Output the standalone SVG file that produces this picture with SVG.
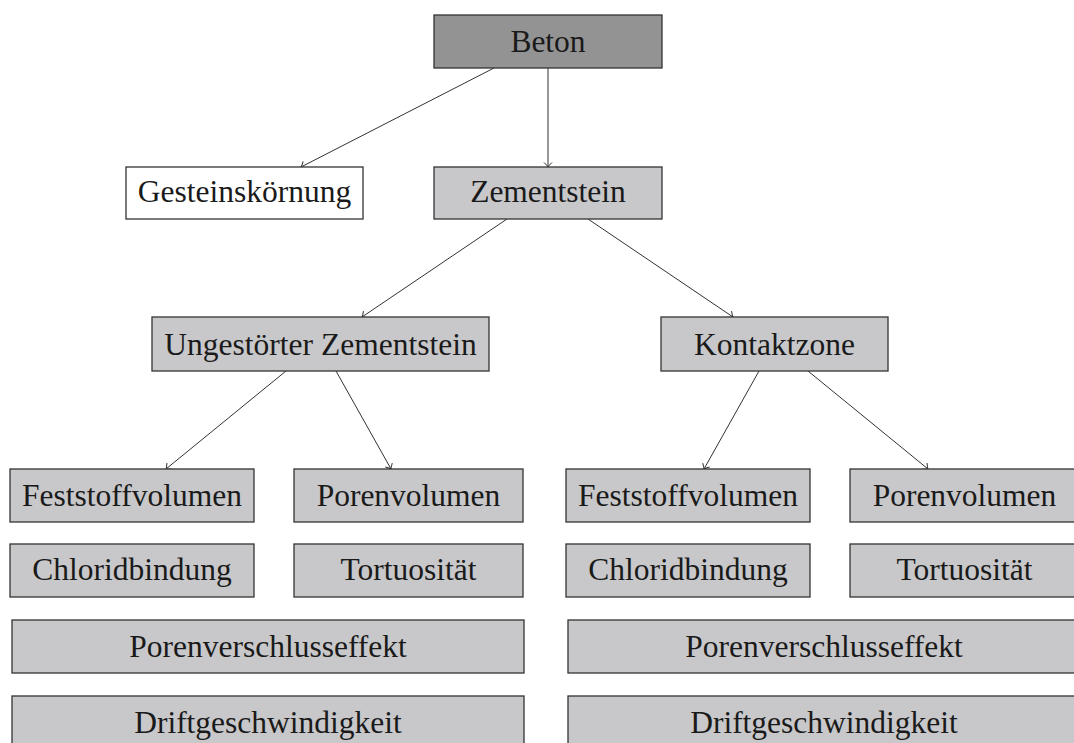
<svg xmlns="http://www.w3.org/2000/svg" width="1074" height="743" viewBox="0 0 1074 743">
<style>
rect{stroke:#333;stroke-width:1.3}
.g{fill:#c8c8ca}
.d{fill:#939393}
.w{fill:#fff}
text{font-family:"Liberation Serif","Times New Roman",serif;font-size:31.5px;fill:#1a1a1a;text-anchor:middle}
.c line{stroke:#333;stroke-width:1;marker-end:url(#ah)}
</style>
<defs>
<marker id="ah" viewBox="-6 -6 12 12" markerWidth="12" markerHeight="12" refX="0" refY="0" orient="auto" markerUnits="userSpaceOnUse">
<path d="M-4.5,-4 Q-1.5,-0.8 0,0 Q-1.5,0.8 -4.5,4" fill="none" stroke="#333" stroke-width="1"/>
</marker>
</defs>
<rect width="1074" height="743" fill="#fff" style="stroke:none"/>
<g class="c" id="connectors">
<line x1="494" y1="68" x2="301" y2="167"/>
<line x1="548" y1="68" x2="548" y2="167"/>
<line x1="507" y1="219" x2="362" y2="317"/>
<line x1="588" y1="219" x2="733" y2="317"/>
<line x1="286" y1="371" x2="166" y2="469"/>
<line x1="336" y1="371" x2="391" y2="469"/>
<line x1="759" y1="371" x2="704" y2="469"/>
<line x1="808" y1="371" x2="928" y2="469"/>
</g>
<g id="beton"><rect class="d" x="434" y="15" width="228" height="53"/><text x="548" y="52">Beton</text></g>
<g id="gestein"><rect class="w" x="126" y="167" width="237" height="52"/><text x="244.5" y="202">Gesteinskörnung</text></g>
<g id="zementstein"><rect class="g" x="434" y="167" width="228" height="52"/><text x="548" y="202">Zementstein</text></g>
<g id="ungestoert"><rect class="g" x="152" y="317" width="337" height="54"/><text x="320.5" y="355">Ungestörter Zementstein</text></g>
<g id="kontaktzone"><rect class="g" x="661" y="317" width="227" height="54"/><text x="774.5" y="355">Kontaktzone</text></g>
<g id="feststoff-l"><rect class="g" x="10" y="469" width="244" height="53"/><text x="132" y="505.5">Feststoffvolumen</text></g>
<g id="poren-l"><rect class="g" x="294" y="469" width="229" height="53"/><text x="408.5" y="505.5">Porenvolumen</text></g>
<g id="chlorid-l"><rect class="g" x="10" y="544" width="244" height="53"/><text x="132" y="580">Chloridbindung</text></g>
<g id="tort-l"><rect class="g" x="294" y="544" width="229" height="53"/><text x="408.5" y="580">Tortuosität</text></g>
<g id="verschluss-l"><rect class="g" x="12" y="620" width="512" height="53"/><text x="268" y="656.5">Porenverschlusseffekt</text></g>
<g id="drift-l"><rect class="g" x="12" y="696" width="512" height="60"/><text x="268" y="732.5">Driftgeschwindigkeit</text></g>
<g id="feststoff-r"><rect class="g" x="566" y="469" width="244" height="53"/><text x="688" y="505.5">Feststoffvolumen</text></g>
<g id="poren-r"><rect class="g" x="850" y="469" width="229" height="53"/><text x="964.5" y="505.5">Porenvolumen</text></g>
<g id="chlorid-r"><rect class="g" x="566" y="544" width="244" height="53"/><text x="688" y="580">Chloridbindung</text></g>
<g id="tort-r"><rect class="g" x="850" y="544" width="229" height="53"/><text x="964.5" y="580">Tortuosität</text></g>
<g id="verschluss-r"><rect class="g" x="568" y="620" width="512" height="53"/><text x="824" y="656.5">Porenverschlusseffekt</text></g>
<g id="drift-r"><rect class="g" x="568" y="696" width="512" height="60"/><text x="824" y="732.5">Driftgeschwindigkeit</text></g>
</svg>
